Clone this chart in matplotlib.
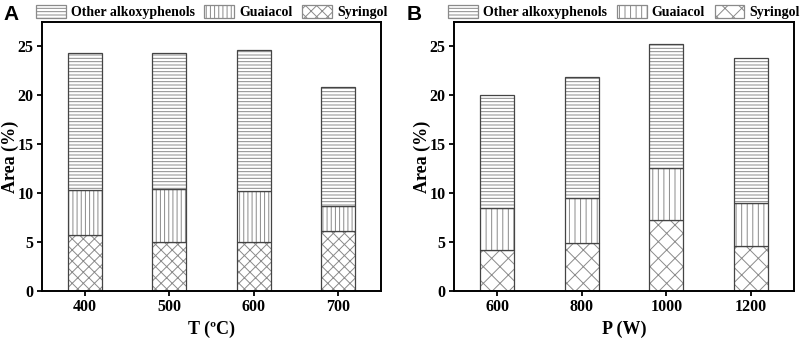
import matplotlib.pyplot as plt
from matplotlib.patches import Patch
import numpy as np

plt.rcParams['font.family'] = ['Liberation Serif', 'DejaVu Serif']
plt.rcParams['font.weight'] = 'bold'
plt.rcParams['hatch.linewidth'] = 0.7

temps = ["400", "500", "600", "700"]
syringol_t = [5.7, 5.0, 5.0, 6.1]
guaiacol_t = [4.6, 5.4, 5.2, 2.6]
other_t = [13.9, 13.8, 14.3, 12.1]

powers = ["600", "800", "1000", "1200"]
syringol_p = [4.15, 4.85, 7.2, 4.6]
guaiacol_p = [4.3, 4.65, 5.3, 4.35]
other_p = [11.5, 12.3, 12.65, 14.75]

names = ["Other alkoxyphenols", "Guaiacol", "Syringol"]
hatch_col = "#8a8a8a"
edge = "#444444"


def panel(ax, cats, syr, gua, oth, hatches, xlabel):
    x = np.arange(len(cats))
    syr = np.array(syr)
    gua = np.array(gua)
    oth = np.array(oth)
    bottoms = [np.zeros(len(cats)), syr, syr + gua]
    for vals, bot, h in zip([syr, gua, oth], bottoms, hatches[::-1]):
        # hatch in light gray, then outline in darker gray on top
        ax.bar(x, vals, bottom=bot, width=0.4, color="white",
               edgecolor=hatch_col, linewidth=0, hatch=h)
        ax.bar(x, vals, bottom=bot, width=0.4, fill=False,
               edgecolor=edge, linewidth=0.9)
    ax.set_xlim(-0.51, len(cats) - 0.49)
    ax.set_ylim(0, 27.4)
    ax.set_yticks([0, 5, 10, 15, 20, 25])
    ax.set_xticks(x)
    ax.set_xticklabels(cats)
    ax.tick_params(labelsize=11.5, width=1.3, length=3.5, pad=2.5)
    for s in ax.spines.values():
        s.set_linewidth(1.4)
    ax.set_xlabel(xlabel, fontsize=13, fontweight="bold")
    ax.set_ylabel("Area (%)", fontsize=13, fontweight="bold")
    ax.yaxis.set_label_coords(-0.068, 0.5)
    handles = [Patch(facecolor="white", edgecolor=hatch_col, linewidth=0.9, hatch=h)
               for h in hatches]
    ax.legend(handles, names, loc="lower center", bbox_to_anchor=(0.5, 1.01),
              ncol=3, frameon=False, fontsize=10, handlelength=2.15,
              handleheight=1.0, handletextpad=0.36, columnspacing=0.7,
              borderaxespad=0, borderpad=0)


def main():
    fig = plt.figure(figsize=(8.03, 3.41), dpi=100)
    ax1 = fig.add_axes([0.0523, 0.1466, 0.4222, 0.789])
    ax2 = fig.add_axes([0.5654, 0.1466, 0.4234, 0.789])
    panel(ax1, temps, syringol_t, guaiacol_t, other_t, ["-----", "||||", "xxx"], "T (ºC)")
    panel(ax2, powers, syringol_p, guaiacol_p, other_p, ["-----", "|||", "xx"], "P (W)")
    fig.text(0.004, 0.985, "A", fontsize=15, fontweight="bold", family="Liberation Sans", va="top")
    fig.text(0.506, 0.985, "B", fontsize=15, fontweight="bold", family="Liberation Sans", va="top")
    fig.savefig("out.png", dpi=100)


if __name__ == "__main__":
    main()
